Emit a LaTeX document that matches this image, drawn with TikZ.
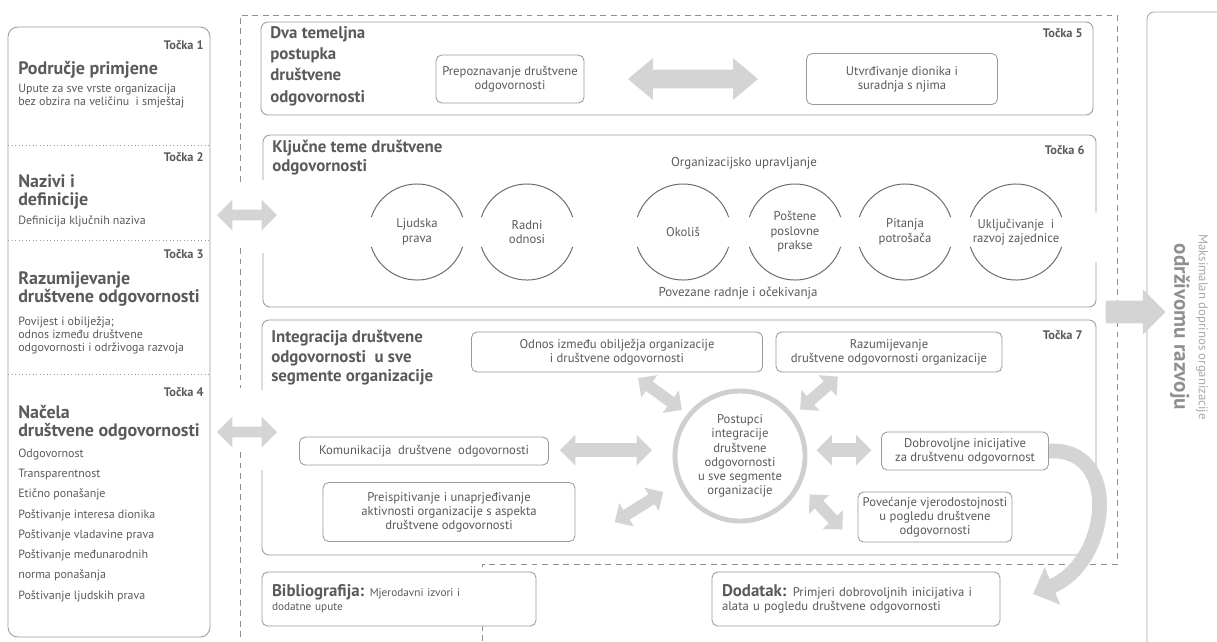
\documentclass[tikz,border=0pt]{standalone}
\usepackage{fontspec}
\setmainfont{PT Sans}
\usetikzlibrary{shapes.arrows,arrows.meta}
\definecolor{inkgray}{HTML}{5A5A5A}
\definecolor{linegray}{HTML}{9A9A9A}
\definecolor{fillgray}{HTML}{D4D4D4}
\definecolor{dashgray}{HTML}{8E8E8E}
\definecolor{ringgray}{HTML}{CFCFCF}
\definecolor{palegray}{HTML}{A8A8A8}
\tikzset{
  pane/.style={draw=linegray, line width=0.6pt, rounded corners=5pt},
  outline/.style={draw=dashgray, line width=0.6pt, dash pattern=on 4.2pt off 3.3pt},
  divider/.style={draw=linegray, line width=0.5pt, dotted},
  tbox/.style 2 args={draw=linegray, fill=white, line width=0.6pt, rounded corners=4pt,
    minimum width=#1*0.025cm, minimum height=#2*0.025cm, inner sep=0, align=center,
    text=inkgray, font=\fontsize{9}{9.9}\selectfont},
  tocka/.style={anchor=east, inner sep=0, text=inkgray, font=\bfseries\fontsize{8.8}{10}\selectfont},
  lhead/.style={anchor=west, inner sep=0, align=left, text=inkgray, font=\bfseries\fontsize{12.8}{13.2}\selectfont},
  bighead/.style={anchor=west, inner sep=0, align=left, text=inkgray, font=\bfseries\fontsize{12}{14}\selectfont},
  ltext/.style={anchor=west, inner sep=0, align=left, text=inkgray, font=\fontsize{8.5}{9.2}\selectfont},
  note/.style={inner sep=0, text=inkgray, font=\fontsize{9.2}{10}\selectfont},
  theme/.style={circle, minimum size=2.4cm, inner sep=0, outer sep=0, align=center,
    text=inkgray, font=\fontsize{9}{10.3}\selectfont},
  themearc/.style={draw=inkgray!90, line width=0.7pt},
  fat/.style n args={3}{double arrow, fill=fillgray, inner xsep=0, inner ysep=#2/2*0.025cm,
    minimum height=#1*0.025cm, double arrow head extend=#3*0.025cm},
  bendarrow/.style={draw=fillgray, line width=10.5pt, -{Triangle[length=15pt, width=28pt]}}
}
\begin{document}
\begin{tikzpicture}[x=0.025cm, y=-0.025cm]
\useasboundingbox (0,0) rectangle (1217,641);

% left column
\draw[pane, rounded corners=7pt] (8,27) rectangle (210,637);
\draw[divider] (8,145) -- (210,145);
\draw[divider] (8,240) -- (210,240);
\draw[divider] (8,374) -- (210,374);
\node[tocka] (t1) at (204,45) {Točka 1};
\node[lhead] (h1) at (18,70) {Područje primjene};
\node[ltext] (b1) at (18,96) {Upute za sve vrste organizacija\\bez obzira na veličinu\ \ i smještaj};
\node[tocka] (t2) at (204,157) {Točka 2};
\node[lhead] (h2) at (18,192) {Nazivi i\\definicije};
\node[ltext] (b2) at (18,221) {Definicija ključnih naziva};
\node[tocka] (t3) at (204,254) {Točka 3};
\node[lhead] (h3) at (18,289) {Razumijevanje\\društvene odgovornosti};
\node[ltext] (b3) at (18,335) {Povijest i obilježja;\\odnos između društvene\\odgovornosti i održivoga razvoja};
\node[tocka] (t4) at (204,392) {Točka 4};
\node[lhead] (h4) at (18,423) {Načela\\društvene odgovornosti};
\foreach \i/\t in {0/Odgovornost, 1/Transparentnost, 2/Etično ponašanje,
  3/Poštivanje interesa dionika, 4/Poštivanje vladavine prava,
  5/Poštivanje međunarodnih, 6/norma ponašanja, 7/Poštivanje ljudskih prava}
  \node[ltext] (p\i) at (18,454+20.3*\i) {\t};

% dashed frame
\draw[outline] (240,182) -- (240,15) -- (1117,15) -- (1117,564) -- (482,564) -- (482,641);
\draw[outline] (240,248) -- (240,388);
\draw[outline] (240,452) -- (240,641);
\node[fat={60}{10}{10}] (a1) at (247,215) {};
\node[fat={60}{10}{10}] (a2) at (247,432) {};

% tocka 5
\draw[pane] (261,22) rectangle (1093,115);
\node[bighead, font=\bfseries\fontsize{12}{15.2}\selectfont] (h5) at (270,66) {Dva temeljna\\postupka\\društvene\\odgovornosti};
\node[tocka] (t5) at (1083,33) {Točka 5};
\node[tbox={148}{48}] (prep) at (510,79) {Prepoznavanje društvene\\odgovornosti};
\node[tbox={191}{51}] (utvr) at (902,79) {Utvrđivanje dionika i\\suradnja s njima};
\node[fat={130}{18}{11.5}, double arrow tip angle=80] (a5) at (693,79) {};

% tocka 6
\draw[pane] (263,180) -- (263,135) -- (1096,135) -- (1096,212);
\draw[pane] (1096,262) -- (1096,307) -- (263,307) -- (263,253);
\node[bighead, font=\bfseries\fontsize{12}{13.5}\selectfont] (h6) at (272,158) {Ključne teme društvene\\odgovornosti};
\node[tocka] (t6) at (1085,150) {Točka 6};
\node[note] (gov) at (744,163) {Organizacijsko upravljanje};
\node[note] (rel) at (738,293) {Povezane radnje i očekivanja};
\foreach \n/\x/\t in {lj/417/{Ljudska\\prava}, ra/527/{Radni\\odnosi}, ok/683/{Okoliš},
  po/795/{Poštene\\poslovne\\prakse}, pit/905/{Pitanja\\potrošača},
  uk/1016/{Uključivanje\ \ i\\razvoj zajednice}} {
  \node[theme] (\n) at (\x,232) {\t};
  \draw[themearc] (\n.18) arc[start angle=18, end angle=162, radius=1.2cm];
  \draw[themearc] (\n.198) arc[start angle=198, end angle=342, radius=1.2cm];
}

% tocka 7
\draw[pane] (262,390) -- (262,320) -- (1096,320) -- (1096,555) -- (262,555) -- (262,470);
\node[bighead, font=\bfseries\fontsize{12}{13.8}\selectfont] (h7) at (271,358) {Integracija društvene\\odgovornosti\ \ u sve\\segmente organizacije};
\node[tocka] (t7) at (1083,335) {Točka 7};
\node[tbox={291}{40}] (odnos) at (617,352) {Odnos između obilježja organizacije\\i društvene odgovornosti};
\node[tbox={226}{40}] (razum) at (889,352) {Razumijevanje\\društvene odgovornosti organizacije};
\node[tbox={249}{28}] (komun) at (424,451) {Komunikacija\ \ društvene\ \ odgovornosti};
\node[tbox={252}{59}] (preis) at (449,512) {Preispitivanje i unaprjeđivanje\\aktivnosti organizacije s aspekta\\društvene odgovornosti};
\node[tbox={167}{38}] (dobro) at (965,451) {Dobrovoljne inicijative\\za društvenu odgovornost};
\node[tbox={154}{50}] (povec) at (935,517) {Povećanje vjerodostojnosti\\u pogledu društvene\\odgovornosti};
\node[theme, draw=ringgray, line width=3.5pt, minimum size=3.25cm, font=\fontsize{9}{10.1}\selectfont] (core) at (740,456) {Postupci\\integracije\\društvene\\odgovornosti\\u sve segmente\\organizacije};
\node[fat={92}{13}{8.5}] (a6) at (606,450) {};
\node[fat={55}{13}{8.5}] (a7) at (844,450) {};
\node[fat={54}{11}{8}, rotate=-36] (a8) at (660,394) {};
\node[fat={50}{11}{8}, rotate=41] (a9) at (819,393) {};
\node[fat={57}{11}{8}, rotate=32] (a10) at (639,507) {};
\node[fat={48}{11}{8}, rotate=-47] (a11) at (826,512) {};

% bottom
\node[tbox={274}{54}, text width=254*0.025cm, align=left, inner xsep=10*0.025cm,
  font=\fontsize{8}{10}\selectfont] (bibl) at (399,599)
  {{\bfseries\fontsize{12}{12}\selectfont Bibliografija:} Mjerodavni izvori i\\dodatne upute};
\node[tbox={288}{54}, text width=268*0.025cm, align=left, inner xsep=10*0.025cm] (dodat) at (856,599)
  {{\bfseries\fontsize{12}{12}\selectfont Dodatak:} Primjeri dobrovoljnih inicijativa i\\alata u pogledu društvene odgovornosti};
\coordinate (tip) at (1033,594);
\draw[bendarrow] (dobro.east) .. controls (1122,447) and (1110,562) .. (tip);

% right side
\draw[pane, draw=palegray] (1147,660) -- (1147,12) -- (1240,12);
\node[single arrow, fill=fillgray, inner xsep=0, inner ysep=11*0.025cm, minimum height=60*0.025cm,
  single arrow head extend=11.5*0.025cm] (outa) at (1130,312) {};
\node[rotate=-90, inner sep=0, text=palegray, font=\fontsize{9.1}{10}\selectfont] (goal1) at (1202,327) {Maksimalan doprinos organizacije};
\node[rotate=-90, inner sep=0, text=palegray!85!black, font=\bfseries\fontsize{15}{16}\selectfont] (goal2) at (1180,327) {održivomu razvoju};
\end{tikzpicture}
\end{document}
